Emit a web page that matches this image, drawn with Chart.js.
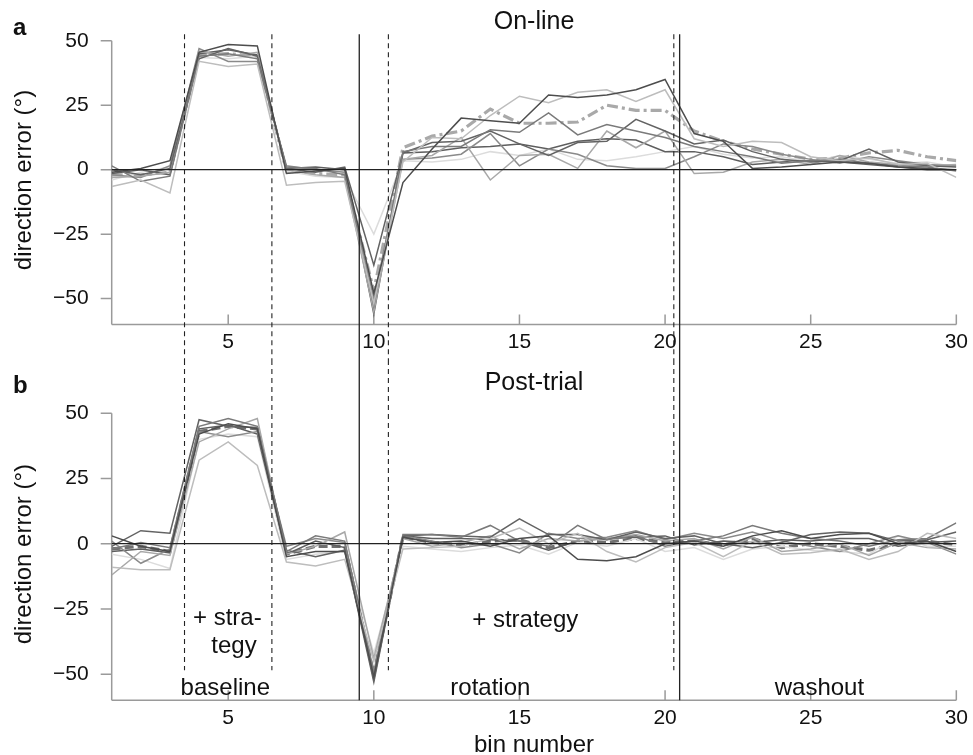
<!DOCTYPE html>
<html>
<head>
<meta charset="utf-8">
<title>Direction error per bin</title>
<script src="https://cdn.jsdelivr.net/npm/chart.js@4.4.0/dist/chart.umd.min.js"></script>
<style>
  html, body { margin: 0; padding: 0; background: #fff; }
  #wrap { position: relative; width: 973px; height: 755px; overflow: hidden; }
  canvas { position: absolute; left: 0; }
  #chartA { top: 0; }
  #chartB { top: 360px; }
</style>
</head>
<body>
<div id="wrap">
  <canvas id="chartA" width="973" height="360"></canvas>
  <canvas id="chartB" width="973" height="395"></canvas>
</div>
<script>
// bins and axis ticks
const bins   = [1,2,3,4,5,6,7,8,9,10,11,12,13,14,15,16,17,18,19,20,21,22,23,24,25,26,27,28,29,30];
const xTicks = [5, 10, 15, 20, 25, 30];
const yTicks = [-50, -25, 0, 25, 50];

// phase boundaries (bin units)
const dashedMarks = [3.5, 6.5, 10.5, 20.3];
const solidMarks  = [9.5, 20.5];

// a: On-line, one row per participant
const onS1 = [-1, 0.5, 3.5, 45.5, 48.5, 48, -1.5, -0.5, 0.5, -48, -5, 8, 20, 19, 18, 29, 28, 29, 31, 35, 14, 11, 0.5, 1, 2, 3, 2.5, 1, 0.5, 0];
const onS2 = [-6.5, -4, -9, 42, 40, 41, -6, -5, -4.5, -52, 3, 12.5, 12, 21, 28.5, 26, 30, 31, 26.5, 31, 12, 9, 11, 10.5, 5, 3.5, 4.5, 2, 2.5, -3];
const onS3 = [1.5, -4.5, -2.5, 44, 45, 43, 1, 0.5, -2, -53, 7, 9, 9, 15.5, 14.5, 22, 13.5, 17.5, 15, 12.5, 9, 7, 5, 2.5, 3.5, 4, 2.5, 1.5, 1, -0.5];
const onS4 = [0, -2, 0.5, 43, 47, 44, 0.5, -1, 1, -37, 6.5, 10.5, 11, 15, 10, 5.5, 10.5, 11, 19.5, 15, 10, 11.5, 7, 4, 3, 3.5, 8, 3, 1.5, 1];
const onS5 = [-3, -2.5, -1, 46, 44, 45.5, 0, -2, -3, -55, 4, 5.5, 12.5, -4, 5.5, 6, 0.5, 15, 8.5, 15, -1.5, -1, 3, 4, 2, 5.5, 3, 2, 1.5, 2];
const onS6 = [-2, -3, 1.5, 47, 42, 42, 1.5, 0, -1, -50, 4, 4.5, 6, 14, 1.5, 8, 6, 1.5, 0.5, 0.5, 5, 10, 9, 6, 4, 2.5, 5, 3.5, 2, 1.5];
const onS7 = [-1.5, 0, -2, 45, 46.5, 44.5, 0.5, 1, 0, -56, 6.5, 7, 8.5, 9, 10, 8, 11, 12, 11.5, 7, 7, 5, 2, 3, 3.5, 3, 2, 1, 0, 0];
const onS8 = [-4, -1, 1, 43.5, 43, 44, -0.5, -2.5, -3, -25, 3.5, 3, 4, 7, 5.5, 8, 4, 3.5, 5, 7, 9, 6, 4.5, 5, 3, 5.5, 4, 2.5, 3, 1];
const onMean = [-2, -2, -1, 44.5, 45, 44, -0.5, -1.5, -2, -47, 8.5, 13, 15, 23.5, 18, 18, 18.5, 25, 23, 23, 15, 11, 8, 6, 4, 4.5, 6.5, 7.5, 5, 3.5];

// b: Post-trial
const ptS1 = [3, -1, -3, 42, 46, 44, -5, -3, -3, -51, 2.5, 0.5, 1, -1, 2, 3, -6, -6.5, -5, 0, 1, -1, 3, 5, 2, 3.5, 4, 0, 1, -3];
const ptS2 = [-9, -10, -10, 32, 39, 30, -7, -8.5, -6, -45, -2, -1.5, -1, 2, 6, 0, 4, -3, -7, -1.5, 0.5, -5, 1, -4, -3.5, -2, -6, -3, 4, 2];
const ptS3 = [-2, 0.5, -1.5, 45, 48, 45, -3, 3, 1, -50, 3.5, 3.5, 2.5, 7, 1, -1, 7, 1.5, 3, -1, 1, 3, 7, 4, 2, 1, -1, 1.5, 2, 8];
const ptS4 = [-1, 5, 4, 47.5, 45, 44.5, -2.5, -5, -2.5, -53, 3, 3.5, 3, 2.5, 9.5, 3.5, 3.5, 1.5, 4.5, 2, 3, 0, -1.5, 0.5, 3.5, 4.5, 4, 1, 1.5, 4.5];
const ptS5 = [-12, -3, -4.5, 39, 44, 48, -4, -1, 4.5, -44, 2, -1, 0.5, 3, -2, 2, 1, 2, 3.5, 1, 2, -2, 2.5, -3, -2, 0, -4.5, 0.5, -1.5, -2];
const ptS6 = [1, -7.5, -2, 43, 41, 43, -1, 2, 0.5, -49, 3, 1, -1.5, 0, -3.5, 4, 2, 2.5, 5, 1.5, 4, 2, 4.5, 1, -1, -3, 0, 3, 0.5, -4];
const ptS7 = [-3, -2, -3.5, 44, 45.5, 42, -4, 1, -1.5, -52, 3, 2, 2, 1.5, 1, -2.5, 1, 2, 2.5, 3, -0.5, 1, 0.5, 1.5, 1, 2, 2, -1, 0.5, 1];
const ptS8 = [-4, -6, -9.5, 40, 42, 41, -6, -4, -3, -42, -1, -2, -3, -1.5, -0.5, -4, 0.5, -1, 2, -3, -1.5, -6, -2, -1, -2.5, -3, -4, 3, -1, -1];
const ptMean = [-2, -1, -3, 43, 45, 44, -4, -1, -1, -50, 2.5, 0.5, -0.5, 1, 1.5, -1.5, 1, 0.5, 2, 0.5, 1, -0.5, 2, -1.5, 0, -1, -2.5, 0, 1, -0.5];

const greys = ['#4d4d4d', '#bdbdbd', '#7a7a7a', '#636363', '#a8a8a8', '#8a8a8a', '#5e5e5e', '#dcdcdc'];
const FONT = '"Liberation Sans", Arial, Helvetica, sans-serif';
Chart.defaults.font.family = FONT;

const toPts = arr => arr.map((v, i) => ({ x: bins[i], y: v }));

function buildSets(subjects, mean, meanColor, meanDash) {
  const sets = subjects.map((s, i) => ({
    data: toPts(s),
    borderColor: greys[i],
    borderWidth: 1.5,
    pointRadius: 0,
    tension: 0,
    fill: false
  }));
  sets.push({
    data: toPts(mean),
    borderColor: meanColor,
    borderWidth: 3.2,
    borderDash: meanDash,
    pointRadius: 0,
    tension: 0,
    fill: false
  });
  return sets;
}

// draws spines, inward/outward ticks, zero line, phase markers and texts
function panelPlugin(opts) {
  return {
    id: 'panelDeco',
    beforeDatasetsDraw(chart) {
      const { ctx, scales: { x, y } } = chart;
      const yb = y.getPixelForValue(-60);
      const x1 = x.getPixelForValue(1), x30 = x.getPixelForValue(30);
      ctx.save();
      ctx.strokeStyle = '#9a9a9a';
      ctx.lineWidth = 1.5;
      ctx.beginPath();
      ctx.moveTo(x1, yb); ctx.lineTo(x30, yb);
      ctx.moveTo(x1, yb); ctx.lineTo(x1, y.getPixelForValue(50));
      xTicks.forEach(t => {
        const px = x.getPixelForValue(t);
        ctx.moveTo(px, yb); ctx.lineTo(px, yb - 10);
      });
      yTicks.forEach(t => {
        const py = y.getPixelForValue(t);
        ctx.moveTo(x1, py); ctx.lineTo(x1 - 11, py);
      });
      ctx.stroke();
      ctx.restore();
    },
    afterDatasetsDraw(chart) {
      const { ctx, scales: { x, y } } = chart;
      ctx.save();
      // zero line
      ctx.strokeStyle = '#222';
      ctx.lineWidth = 1.3;
      ctx.beginPath();
      const y0 = y.getPixelForValue(0);
      ctx.moveTo(x.getPixelForValue(1), y0);
      ctx.lineTo(x.getPixelForValue(30), y0);
      ctx.stroke();

      // solid phase lines
      ctx.lineWidth = 1.3;
      ctx.strokeStyle = '#222';
      solidMarks.forEach(m => {
        const px = x.getPixelForValue(m);
        ctx.beginPath();
        ctx.moveTo(px, opts.solidTop(chart));
        ctx.lineTo(px, opts.solidBottom(chart));
        ctx.stroke();
      });
      // dashed phase lines
      ctx.lineWidth = 1.1;
      ctx.setLineDash([5, 4]);
      dashedMarks.forEach(m => {
        const px = x.getPixelForValue(m);
        ctx.beginPath();
        ctx.moveTo(px, opts.dashTop(chart));
        ctx.lineTo(px, opts.dashBottom(chart));
        ctx.stroke();
      });
      ctx.setLineDash([]);

      // texts
      ctx.fillStyle = '#111';
      ctx.textBaseline = 'alphabetic';
      ctx.textAlign = 'left';
      ctx.font = 'bold 24px ' + FONT;
      ctx.fillText(opts.letter, 13, opts.letterY);

      ctx.textAlign = 'center';
      ctx.textBaseline = 'middle';
      ctx.font = '25px ' + FONT;
      ctx.fillText(opts.title, (chart.chartArea.left + chart.chartArea.right) / 2, opts.titleY);

      ctx.font = '24px ' + FONT;
      (opts.notes || []).forEach(n => {
        ctx.fillText(n.text, x.getPixelForValue(n.x), n.y);
      });
      ctx.restore();
    }
  };
}

function makeChart(id, sets, padTop, xHeight, xTitle, deco) {
  return new Chart(document.getElementById(id), {
    type: 'line',
    data: { datasets: sets },
    options: {
      responsive: false,
      animation: false,
      layout: { padding: { top: padTop, right: 14.3, left: 0, bottom: 0 } },
      plugins: { legend: { display: false }, tooltip: { enabled: false } },
      scales: {
        x: {
          type: 'linear',
          min: 1, max: 30,
          grid: { display: false, drawTicks: false },
          border: { display: false },
          afterBuildTicks: s => { s.ticks = xTicks.map(v => ({ value: v })); },
          afterFit: s => { s.height = xHeight; },
          ticks: { color: '#111', font: { size: 21 }, padding: 5 },
          title: xTitle
            ? { display: true, text: 'bin number', color: '#111', font: { size: 24, lineHeight: 1 }, padding: { top: 2, bottom: -2 } }
            : { display: false }
        },
        y: {
          min: -60, max: 52,
          grid: { display: false, drawTicks: false },
          border: { display: false },
          afterBuildTicks: s => { s.ticks = yTicks.map(v => ({ value: v })); },
          afterFit: s => { s.width = 111.7; },
          ticks: {
            color: '#111', font: { size: 21 }, padding: 23,
            callback: v => v < 0 ? '\u2212' + Math.abs(v) : String(v)
          },
          title: { display: true, text: 'direction error (°)', color: '#111', font: { size: 24, lineHeight: 1.2 }, padding: { top: 10, bottom: 0 } }
        }
      }
    },
    plugins: [panelPlugin(deco)]
  });
}

makeChart('chartA',
  buildSets([onS1, onS2, onS3, onS4, onS5, onS6, onS7, onS8], onMean, '#a9a9a9', [11, 4, 3, 4]),
  35.3, 32.4, false,
  {
    letter: 'a', letterY: 35, title: 'On-line', titleY: 22,
    solidTop: c => c.scales.y.getPixelForValue(52.5), solidBottom: c => c.height,
    dashTop: c => c.scales.y.getPixelForValue(52.5), dashBottom: c => c.height
  });

makeChart('chartB',
  buildSets([ptS1, ptS2, ptS3, ptS4, ptS5, ptS6, ptS7, ptS8], ptMean, '#6f6f6f', [9, 4]),
  48, 54.7, true,
  {
    letter: 'b', letterY: 33, title: 'Post-trial', titleY: 23,
    solidTop: () => 0, solidBottom: c => c.scales.y.getPixelForValue(-60),
    dashTop: () => 0, dashBottom: c => c.scales.y.getPixelForValue(-48.5),
    notes: [
      { text: '+ stra-', x: 4.97, y: 258 },
      { text: 'tegy', x: 5.2, y: 286 },
      { text: '+ strategy', x: 15.2, y: 260 },
      { text: 'baseline', x: 4.9, y: 328 },
      { text: 'rotation', x: 14.0, y: 328 },
      { text: 'washout', x: 25.3, y: 328 }
    ]
  });
</script>
</body>
</html>
